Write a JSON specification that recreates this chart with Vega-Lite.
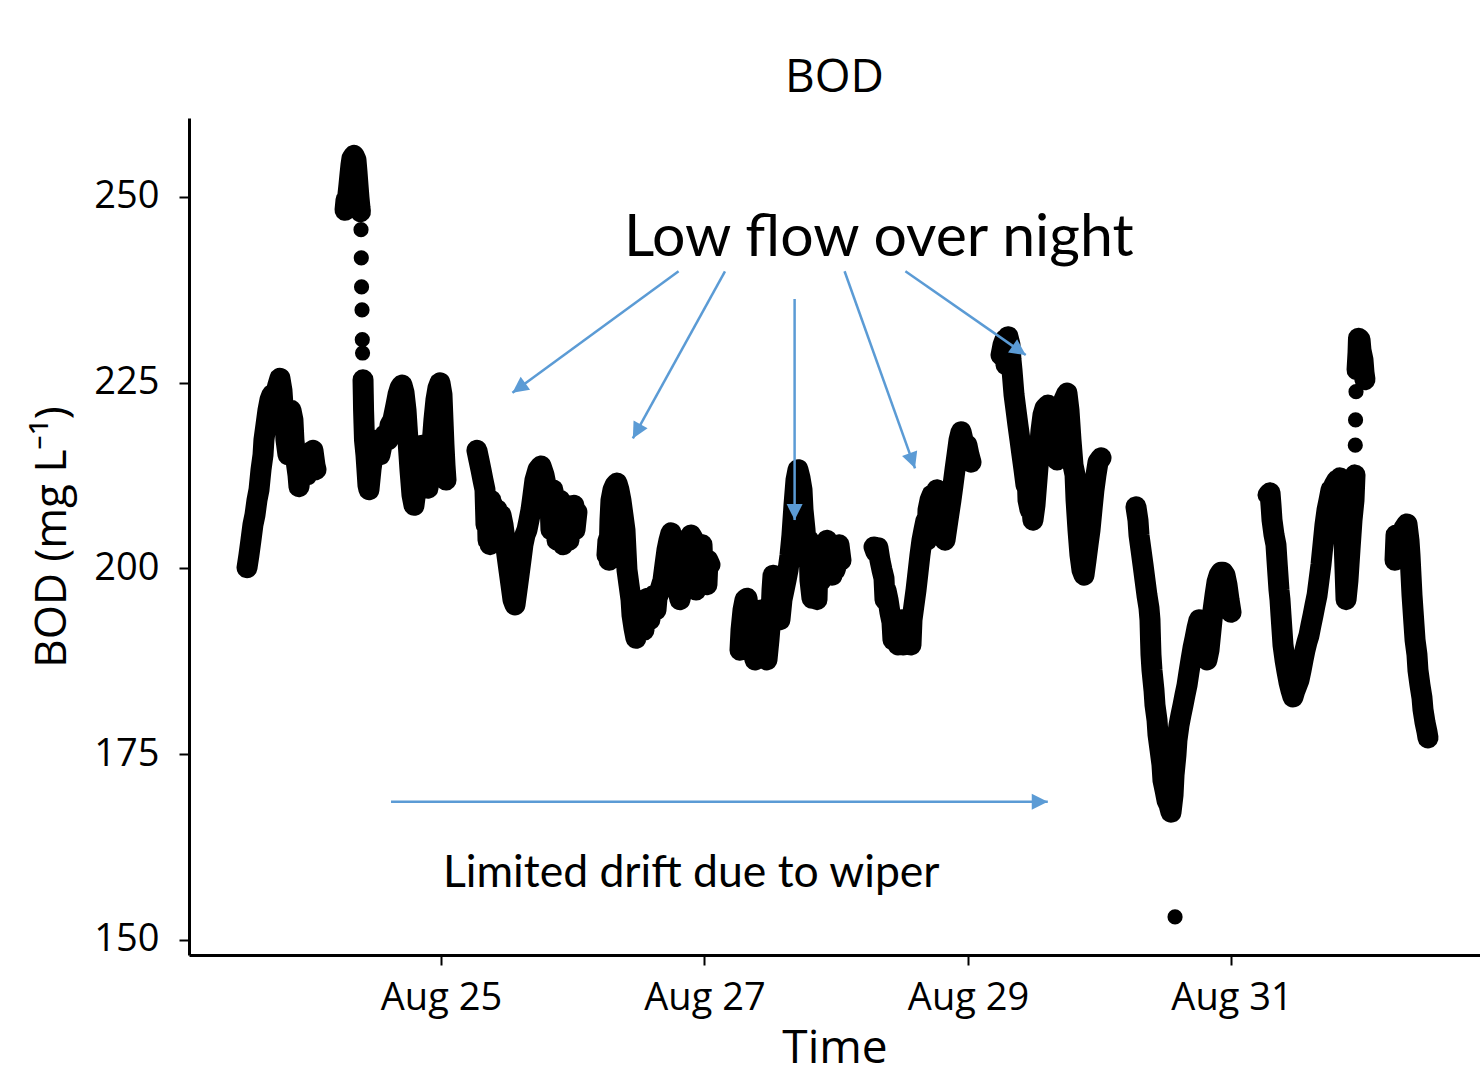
{
"$schema": "https://vega.github.io/schema/vega-lite/v6.json",
"width": 1291, "height": 837,
"autosize": {"type": "none"},
"padding": {"left": 189, "top": 118, "right": 0, "bottom": 122},
"background": "white",
"title": {"text": "BOD", "font": "Open Sans", "fontSize": 46, "fontWeight": "normal", "color": "#000", "frame": "group", "anchor": "middle", "offset": 16},
"config": {"view": {"stroke": null}, "axis": {"domainColor": "#000", "domainWidth": 3, "tickColor": "#000", "tickWidth": 2, "tickSize": 10, "grid": false, "labelColor": "#000", "labelFont": "Open Sans", "labelFontSize": 38, "titleFont": "Open Sans", "titleFontSize": 46, "titleFontWeight": "normal", "titleColor": "#000"}},
"datasets": {
"bod": [
{"t":"2019-08-23T12:40","v":200.1,"r":"A"},{"t":"2019-08-23T13:01","v":201.8,"r":"A"},{"t":"2019-08-23T13:23","v":203.8,"r":"A"},{"t":"2019-08-23T13:45","v":205.9,"r":"A"},{"t":"2019-08-23T14:07","v":207.2,"r":"A"},{"t":"2019-08-23T14:29","v":209.2,"r":"A"},{"t":"2019-08-23T14:51","v":210.6,"r":"A"},{"t":"2019-08-23T15:13","v":213.3,"r":"A"},{"t":"2019-08-23T15:35","v":215.3,"r":"A"},{"t":"2019-08-23T15:45","v":217.3,"r":"A"},{"t":"2019-08-23T16:07","v":219.3,"r":"A"},{"t":"2019-08-23T16:29","v":221.3,"r":"A"},{"t":"2019-08-23T16:51","v":222.7,"r":"A"},{"t":"2019-08-23T17:13","v":223.4,"r":"A"},{"t":"2019-08-23T17:35","v":222.7,"r":"A"},{"t":"2019-08-23T17:57","v":223.7,"r":"A"},{"t":"2019-08-23T18:18","v":224.7,"r":"A"},{"t":"2019-08-23T18:40","v":225.6,"r":"A"},{"t":"2019-08-23T19:02","v":224.0,"r":"A"},{"t":"2019-08-23T19:13","v":222.0,"r":"A"},{"t":"2019-08-23T19:35","v":220.0,"r":"A"},{"t":"2019-08-23T19:46","v":217.3,"r":"A"},{"t":"2019-08-23T20:08","v":215.3,"r":"A"},{"t":"2019-08-23T20:19","v":218.6,"r":"A"},{"t":"2019-08-23T20:41","v":221.3,"r":"A"},{"t":"2019-08-23T21:02","v":220.0,"r":"A"},{"t":"2019-08-23T21:13","v":217.3,"r":"A"},{"t":"2019-08-23T21:35","v":214.6,"r":"A"},{"t":"2019-08-23T21:57","v":212.6,"r":"A"},{"t":"2019-08-23T22:08","v":211.0,"r":"A"},{"t":"2019-08-23T22:30","v":213.3,"r":"A"},{"t":"2019-08-23T22:52","v":215.3,"r":"A"},{"t":"2019-08-23T23:14","v":214.6,"r":"A"},{"t":"2019-08-23T23:35","v":212.6,"r":"A"},{"t":"2019-08-23T23:57","v":213.9,"r":"A"},{"t":"2019-08-24T00:19","v":215.3,"r":"A"},{"t":"2019-08-24T00:41","v":215.9,"r":"A"},{"t":"2019-08-24T01:03","v":213.9,"r":"A"},{"t":"2019-08-24T01:14","v":213.3,"r":"A"},
{"t":"2019-08-24T06:31","v":248.2,"r":"B1"},{"t":"2019-08-24T06:42","v":249.6,"r":"B1"},{"t":"2019-08-24T06:53","v":248.9,"r":"B1"},{"t":"2019-08-24T07:03","v":250.3,"r":"B1"},{"t":"2019-08-24T07:14","v":251.6,"r":"B1"},{"t":"2019-08-24T07:25","v":253.0,"r":"B1"},{"t":"2019-08-24T07:36","v":254.3,"r":"B1"},{"t":"2019-08-24T07:47","v":255.2,"r":"B1"},{"t":"2019-08-24T08:09","v":255.6,"r":"B1"},{"t":"2019-08-24T08:31","v":255.0,"r":"B1"},{"t":"2019-08-24T08:42","v":253.4,"r":"B1"},{"t":"2019-08-24T08:53","v":251.6,"r":"B1"},{"t":"2019-08-24T09:04","v":249.9,"r":"B1"},{"t":"2019-08-24T09:15","v":248.5,"r":"B1"},{"t":"2019-08-24T09:20","v":248.0,"r":"B1"},
{"t":"2019-08-24T09:26","v":245.6},{"t":"2019-08-24T09:29","v":241.8},{"t":"2019-08-24T09:32","v":237.9},{"t":"2019-08-24T09:37","v":234.8},{"t":"2019-08-24T09:40","v":230.8},{"t":"2019-08-24T09:43","v":229.0},
{"t":"2019-08-24T09:48","v":225.4,"r":"B2"},{"t":"2019-08-24T09:51","v":223.4,"r":"B2"},{"t":"2019-08-24T09:54","v":221.3,"r":"B2"},{"t":"2019-08-24T09:59","v":219.3,"r":"B2"},{"t":"2019-08-24T10:04","v":217.3,"r":"B2"},{"t":"2019-08-24T10:20","v":215.3,"r":"B2"},{"t":"2019-08-24T10:31","v":213.3,"r":"B2"},{"t":"2019-08-24T10:42","v":211.2,"r":"B2"},{"t":"2019-08-24T10:53","v":210.6,"r":"B2"},{"t":"2019-08-24T11:15","v":213.3,"r":"B2"},{"t":"2019-08-24T11:37","v":215.3,"r":"B2"},{"t":"2019-08-24T11:59","v":215.9,"r":"B2"},{"t":"2019-08-24T12:31","v":217.3,"r":"B2"},{"t":"2019-08-24T12:53","v":215.3,"r":"B2"},{"t":"2019-08-24T13:15","v":216.6,"r":"B2"},{"t":"2019-08-24T13:48","v":218.0,"r":"B2"},{"t":"2019-08-24T14:21","v":217.3,"r":"B2"},{"t":"2019-08-24T14:43","v":219.3,"r":"B2"},{"t":"2019-08-24T15:15","v":220.0,"r":"B2"},{"t":"2019-08-24T15:48","v":222.0,"r":"B2"},{"t":"2019-08-24T16:10","v":223.4,"r":"B2"},{"t":"2019-08-24T16:32","v":224.3,"r":"B2"},{"t":"2019-08-24T16:54","v":224.7,"r":"B2"},{"t":"2019-08-24T17:16","v":223.7,"r":"B2"},{"t":"2019-08-24T17:38","v":221.3,"r":"B2"},{"t":"2019-08-24T17:59","v":217.3,"r":"B2"},{"t":"2019-08-24T18:21","v":213.3,"r":"B2"},{"t":"2019-08-24T18:43","v":209.9,"r":"B2"},{"t":"2019-08-24T19:05","v":208.5,"r":"B2"},{"t":"2019-08-24T19:27","v":210.6,"r":"B2"},{"t":"2019-08-24T19:49","v":213.3,"r":"B2"},{"t":"2019-08-24T20:10","v":215.3,"r":"B2"},{"t":"2019-08-24T20:32","v":216.6,"r":"B2"},{"t":"2019-08-24T20:54","v":214.6,"r":"B2"},{"t":"2019-08-24T21:16","v":212.2,"r":"B2"},{"t":"2019-08-24T21:38","v":210.8,"r":"B2"},{"t":"2019-08-24T22:00","v":213.3,"r":"B2"},{"t":"2019-08-24T22:22","v":216.6,"r":"B2"},{"t":"2019-08-24T22:43","v":220.0,"r":"B2"},{"t":"2019-08-24T23:05","v":222.7,"r":"B2"},{"t":"2019-08-24T23:27","v":224.3,"r":"B2"},{"t":"2019-08-24T23:49","v":225.0,"r":"B2"},{"t":"2019-08-25T00:11","v":223.4,"r":"B2"},{"t":"2019-08-25T00:22","v":220.0,"r":"B2"},{"t":"2019-08-25T00:33","v":216.6,"r":"B2"},{"t":"2019-08-25T00:44","v":213.9,"r":"B2"},{"t":"2019-08-25T00:55","v":211.9,"r":"B2"},
{"t":"2019-08-25T06:33","v":215.9,"r":"C"},{"t":"2019-08-25T06:55","v":214.6,"r":"C"},{"t":"2019-08-25T07:17","v":213.3,"r":"C"},{"t":"2019-08-25T07:39","v":211.9,"r":"C"},{"t":"2019-08-25T08:01","v":210.6,"r":"C"},{"t":"2019-08-25T08:12","v":205.9,"r":"C"},{"t":"2019-08-25T08:23","v":209.2,"r":"C"},{"t":"2019-08-25T08:34","v":203.8,"r":"C"},{"t":"2019-08-25T08:45","v":208.5,"r":"C"},{"t":"2019-08-25T08:56","v":203.2,"r":"C"},{"t":"2019-08-25T09:06","v":209.2,"r":"C"},{"t":"2019-08-25T09:17","v":205.2,"r":"C"},{"t":"2019-08-25T09:28","v":208.5,"r":"C"},{"t":"2019-08-25T09:50","v":206.5,"r":"C"},{"t":"2019-08-25T10:12","v":207.9,"r":"C"},{"t":"2019-08-25T10:34","v":206.5,"r":"C"},{"t":"2019-08-25T10:56","v":207.2,"r":"C"},{"t":"2019-08-25T11:18","v":205.9,"r":"C"},{"t":"2019-08-25T11:40","v":203.8,"r":"C"},{"t":"2019-08-25T12:01","v":201.8,"r":"C"},{"t":"2019-08-25T12:23","v":199.8,"r":"C"},{"t":"2019-08-25T12:45","v":197.8,"r":"C"},{"t":"2019-08-25T13:07","v":195.8,"r":"C"},{"t":"2019-08-25T13:29","v":195.1,"r":"C"},{"t":"2019-08-25T13:51","v":197.1,"r":"C"},{"t":"2019-08-25T14:13","v":199.1,"r":"C"},{"t":"2019-08-25T14:34","v":201.1,"r":"C"},{"t":"2019-08-25T14:56","v":203.2,"r":"C"},{"t":"2019-08-25T15:18","v":204.5,"r":"C"},{"t":"2019-08-25T15:40","v":205.2,"r":"C"},{"t":"2019-08-25T16:02","v":206.5,"r":"C"},{"t":"2019-08-25T16:24","v":207.9,"r":"C"},{"t":"2019-08-25T16:46","v":209.9,"r":"C"},{"t":"2019-08-25T17:07","v":211.9,"r":"C"},{"t":"2019-08-25T17:40","v":213.3,"r":"C"},{"t":"2019-08-25T18:13","v":213.8,"r":"C"},{"t":"2019-08-25T18:46","v":212.6,"r":"C"},{"t":"2019-08-25T19:19","v":210.6,"r":"C"},{"t":"2019-08-25T19:51","v":209.2,"r":"C"},{"t":"2019-08-25T20:02","v":205.2,"r":"C"},{"t":"2019-08-25T20:24","v":210.6,"r":"C"},{"t":"2019-08-25T20:35","v":206.5,"r":"C"},{"t":"2019-08-25T20:57","v":209.2,"r":"C"},{"t":"2019-08-25T21:08","v":203.8,"r":"C"},{"t":"2019-08-25T21:30","v":207.9,"r":"C"},{"t":"2019-08-25T21:41","v":209.2,"r":"C"},{"t":"2019-08-25T22:03","v":205.9,"r":"C"},{"t":"2019-08-25T22:14","v":203.2,"r":"C"},{"t":"2019-08-25T22:35","v":204.5,"r":"C"},{"t":"2019-08-25T22:46","v":208.5,"r":"C"},{"t":"2019-08-25T23:08","v":206.5,"r":"C"},{"t":"2019-08-25T23:19","v":203.8,"r":"C"},{"t":"2019-08-25T23:41","v":207.9,"r":"C"},{"t":"2019-08-25T23:52","v":207.2,"r":"C"},{"t":"2019-08-26T00:14","v":208.5,"r":"C"},{"t":"2019-08-26T00:25","v":205.2,"r":"C"},{"t":"2019-08-26T00:46","v":207.6,"r":"C"},
{"t":"2019-08-26T06:14","v":201.8,"r":"D"},{"t":"2019-08-26T06:25","v":203.8,"r":"D"},{"t":"2019-08-26T06:36","v":201.1,"r":"D"},{"t":"2019-08-26T06:47","v":206.5,"r":"D"},{"t":"2019-08-26T06:58","v":209.2,"r":"D"},{"t":"2019-08-26T07:20","v":210.6,"r":"D"},{"t":"2019-08-26T07:42","v":211.2,"r":"D"},{"t":"2019-08-26T08:04","v":211.5,"r":"D"},{"t":"2019-08-26T08:25","v":210.6,"r":"D"},{"t":"2019-08-26T08:47","v":209.2,"r":"D"},{"t":"2019-08-26T09:09","v":207.2,"r":"D"},{"t":"2019-08-26T09:31","v":205.2,"r":"D"},{"t":"2019-08-26T09:42","v":202.5,"r":"D"},{"t":"2019-08-26T09:53","v":199.8,"r":"D"},{"t":"2019-08-26T10:15","v":197.8,"r":"D"},{"t":"2019-08-26T10:37","v":195.8,"r":"D"},{"t":"2019-08-26T10:48","v":193.7,"r":"D"},{"t":"2019-08-26T11:09","v":192.0,"r":"D"},{"t":"2019-08-26T11:31","v":190.6,"r":"D"},{"t":"2019-08-26T11:53","v":192.0,"r":"D"},{"t":"2019-08-26T12:15","v":193.7,"r":"D"},{"t":"2019-08-26T12:37","v":195.1,"r":"D"},{"t":"2019-08-26T12:59","v":191.7,"r":"D"},{"t":"2019-08-26T13:10","v":195.8,"r":"D"},{"t":"2019-08-26T13:42","v":196.0,"r":"D"},{"t":"2019-08-26T14:04","v":193.1,"r":"D"},{"t":"2019-08-26T14:15","v":195.8,"r":"D"},{"t":"2019-08-26T14:48","v":196.4,"r":"D"},{"t":"2019-08-26T15:10","v":194.4,"r":"D"},{"t":"2019-08-26T15:21","v":196.0,"r":"D"},{"t":"2019-08-26T15:54","v":197.1,"r":"D"},{"t":"2019-08-26T16:26","v":198.4,"r":"D"},{"t":"2019-08-26T16:48","v":200.5,"r":"D"},{"t":"2019-08-26T17:10","v":202.5,"r":"D"},{"t":"2019-08-26T17:32","v":203.8,"r":"D"},{"t":"2019-08-26T17:54","v":204.8,"r":"D"},{"t":"2019-08-26T18:16","v":203.2,"r":"D"},{"t":"2019-08-26T18:38","v":200.5,"r":"D"},{"t":"2019-08-26T18:59","v":197.8,"r":"D"},{"t":"2019-08-26T19:32","v":195.8,"r":"D"},{"t":"2019-08-26T19:54","v":197.1,"r":"D"},{"t":"2019-08-26T20:16","v":199.8,"r":"D"},{"t":"2019-08-26T20:38","v":201.8,"r":"D"},{"t":"2019-08-26T21:00","v":203.2,"r":"D"},{"t":"2019-08-26T21:11","v":198.4,"r":"D"},{"t":"2019-08-26T21:32","v":204.5,"r":"D"},{"t":"2019-08-26T22:05","v":203.8,"r":"D"},{"t":"2019-08-26T22:27","v":197.1,"r":"D"},{"t":"2019-08-26T22:38","v":202.5,"r":"D"},{"t":"2019-08-26T23:11","v":201.1,"r":"D"},{"t":"2019-08-26T23:33","v":203.2,"r":"D"},{"t":"2019-08-26T23:44","v":199.8,"r":"D"},{"t":"2019-08-27T00:05","v":200.5,"r":"D"},{"t":"2019-08-27T00:27","v":197.8,"r":"D"},{"t":"2019-08-27T00:38","v":201.1,"r":"D"},{"t":"2019-08-27T01:00","v":200.5,"r":"D"},
{"t":"2019-08-27T06:28","v":189.0,"r":"E"},{"t":"2019-08-27T06:39","v":191.7,"r":"E"},{"t":"2019-08-27T07:01","v":194.4,"r":"E"},{"t":"2019-08-27T07:23","v":195.8,"r":"E"},{"t":"2019-08-27T07:45","v":196.0,"r":"E"},{"t":"2019-08-27T08:06","v":193.7,"r":"E"},{"t":"2019-08-27T08:28","v":191.0,"r":"E"},{"t":"2019-08-27T08:50","v":189.0,"r":"E"},{"t":"2019-08-27T09:12","v":187.7,"r":"E"},{"t":"2019-08-27T09:34","v":189.7,"r":"E"},{"t":"2019-08-27T09:56","v":192.4,"r":"E"},{"t":"2019-08-27T10:18","v":194.4,"r":"E"},{"t":"2019-08-27T10:39","v":192.4,"r":"E"},{"t":"2019-08-27T11:01","v":189.7,"r":"E"},{"t":"2019-08-27T11:23","v":187.7,"r":"E"},{"t":"2019-08-27T11:45","v":190.4,"r":"E"},{"t":"2019-08-27T12:07","v":193.7,"r":"E"},{"t":"2019-08-27T12:18","v":197.1,"r":"E"},{"t":"2019-08-27T12:29","v":199.1,"r":"E"},{"t":"2019-08-27T12:40","v":197.8,"r":"E"},{"t":"2019-08-27T13:02","v":195.8,"r":"E"},{"t":"2019-08-27T13:23","v":194.4,"r":"E"},{"t":"2019-08-27T13:45","v":193.1,"r":"E"},{"t":"2019-08-27T14:07","v":195.8,"r":"E"},{"t":"2019-08-27T14:29","v":197.1,"r":"E"},{"t":"2019-08-27T14:51","v":198.4,"r":"E"},{"t":"2019-08-27T15:13","v":199.8,"r":"E"},{"t":"2019-08-27T15:35","v":201.8,"r":"E"},{"t":"2019-08-27T15:56","v":204.5,"r":"E"},{"t":"2019-08-27T16:18","v":208.5,"r":"E"},{"t":"2019-08-27T16:40","v":211.9,"r":"E"},{"t":"2019-08-27T17:02","v":213.3,"r":"E"},{"t":"2019-08-27T17:24","v":212.2,"r":"E"},{"t":"2019-08-27T17:46","v":210.6,"r":"E"},{"t":"2019-08-27T17:57","v":207.9,"r":"E"},{"t":"2019-08-27T18:19","v":205.2,"r":"E"},{"t":"2019-08-27T18:30","v":203.2,"r":"E"},{"t":"2019-08-27T18:51","v":201.1,"r":"E"},{"t":"2019-08-27T19:02","v":203.8,"r":"E"},{"t":"2019-08-27T19:13","v":198.4,"r":"E"},{"t":"2019-08-27T19:35","v":196.0,"r":"E"},{"t":"2019-08-27T19:57","v":197.1,"r":"E"},{"t":"2019-08-27T20:19","v":199.8,"r":"E"},{"t":"2019-08-27T20:30","v":195.8,"r":"E"},{"t":"2019-08-27T20:41","v":201.1,"r":"E"},{"t":"2019-08-27T21:03","v":202.5,"r":"E"},{"t":"2019-08-27T21:14","v":198.4,"r":"E"},{"t":"2019-08-27T21:35","v":203.2,"r":"E"},{"t":"2019-08-27T22:08","v":201.8,"r":"E"},{"t":"2019-08-27T22:19","v":203.8,"r":"E"},{"t":"2019-08-27T22:41","v":200.5,"r":"E"},{"t":"2019-08-27T23:14","v":199.1,"r":"E"},{"t":"2019-08-27T23:25","v":201.8,"r":"E"},{"t":"2019-08-27T23:47","v":199.8,"r":"E"},{"t":"2019-08-28T00:19","v":201.1,"r":"E"},{"t":"2019-08-28T00:30","v":203.2,"r":"E"},{"t":"2019-08-28T00:52","v":201.1,"r":"E"},
{"t":"2019-08-28T06:53","v":202.9,"r":"F"},{"t":"2019-08-28T07:14","v":202.2,"r":"F"},{"t":"2019-08-28T07:36","v":202.8,"r":"F"},{"t":"2019-08-28T07:58","v":201.1,"r":"F"},{"t":"2019-08-28T08:20","v":199.8,"r":"F"},{"t":"2019-08-28T08:42","v":198.7,"r":"F"},{"t":"2019-08-28T08:53","v":195.8,"r":"F"},{"t":"2019-08-28T09:04","v":197.1,"r":"F"},{"t":"2019-08-28T09:26","v":195.8,"r":"F"},{"t":"2019-08-28T09:47","v":194.1,"r":"F"},{"t":"2019-08-28T10:09","v":192.8,"r":"F"},{"t":"2019-08-28T10:20","v":190.4,"r":"F"},{"t":"2019-08-28T10:31","v":191.7,"r":"F"},{"t":"2019-08-28T10:53","v":190.4,"r":"F"},{"t":"2019-08-28T11:15","v":189.7,"r":"F"},{"t":"2019-08-28T11:37","v":191.4,"r":"F"},{"t":"2019-08-28T11:59","v":193.1,"r":"F"},{"t":"2019-08-28T12:10","v":189.7,"r":"F"},{"t":"2019-08-28T12:21","v":192.4,"r":"F"},{"t":"2019-08-28T12:42","v":191.0,"r":"F"},{"t":"2019-08-28T13:04","v":190.4,"r":"F"},{"t":"2019-08-28T13:26","v":191.0,"r":"F"},{"t":"2019-08-28T13:37","v":189.7,"r":"F"},{"t":"2019-08-28T13:48","v":193.1,"r":"F"},{"t":"2019-08-28T14:10","v":195.1,"r":"F"},{"t":"2019-08-28T14:32","v":197.1,"r":"F"},{"t":"2019-08-28T14:54","v":199.5,"r":"F"},{"t":"2019-08-28T15:15","v":201.8,"r":"F"},{"t":"2019-08-28T15:37","v":203.8,"r":"F"},{"t":"2019-08-28T15:59","v":205.2,"r":"F"},{"t":"2019-08-28T16:21","v":206.5,"r":"F"},{"t":"2019-08-28T16:32","v":203.8,"r":"F"},{"t":"2019-08-28T16:43","v":207.9,"r":"F"},{"t":"2019-08-28T17:05","v":209.2,"r":"F"},{"t":"2019-08-28T17:27","v":209.9,"r":"F"},{"t":"2019-08-28T17:37","v":206.5,"r":"F"},{"t":"2019-08-28T17:48","v":209.2,"r":"F"},{"t":"2019-08-28T18:10","v":208.5,"r":"F"},{"t":"2019-08-28T18:21","v":210.6,"r":"F"},{"t":"2019-08-28T18:32","v":207.2,"r":"F"},{"t":"2019-08-28T18:54","v":205.9,"r":"F"},{"t":"2019-08-28T19:16","v":204.5,"r":"F"},{"t":"2019-08-28T19:38","v":209.2,"r":"F"},{"t":"2019-08-28T19:49","v":203.8,"r":"F"},{"t":"2019-08-28T20:21","v":206.5,"r":"F"},{"t":"2019-08-28T20:54","v":209.2,"r":"F"},{"t":"2019-08-28T21:16","v":211.2,"r":"F"},{"t":"2019-08-28T21:38","v":213.3,"r":"F"},{"t":"2019-08-28T22:00","v":215.3,"r":"F"},{"t":"2019-08-28T22:22","v":217.3,"r":"F"},{"t":"2019-08-28T22:44","v":218.4,"r":"F"},{"t":"2019-08-28T23:05","v":217.3,"r":"F"},{"t":"2019-08-28T23:27","v":215.9,"r":"F"},{"t":"2019-08-28T23:49","v":216.6,"r":"F"},{"t":"2019-08-29T00:11","v":215.3,"r":"F"},{"t":"2019-08-29T00:33","v":214.3,"r":"F"},
{"t":"2019-08-29T06:01","v":228.7,"r":"G"},{"t":"2019-08-29T06:23","v":230.1,"r":"G"},{"t":"2019-08-29T06:44","v":230.8,"r":"G"},{"t":"2019-08-29T06:55","v":227.4,"r":"G"},{"t":"2019-08-29T07:17","v":231.2,"r":"G"},{"t":"2019-08-29T07:39","v":230.1,"r":"G"},{"t":"2019-08-29T07:50","v":228.1,"r":"G"},{"t":"2019-08-29T08:01","v":226.7,"r":"G"},{"t":"2019-08-29T08:23","v":223.4,"r":"G"},{"t":"2019-08-29T08:45","v":221.3,"r":"G"},{"t":"2019-08-29T09:06","v":219.3,"r":"G"},{"t":"2019-08-29T09:28","v":217.3,"r":"G"},{"t":"2019-08-29T09:50","v":215.3,"r":"G"},{"t":"2019-08-29T10:12","v":213.3,"r":"G"},{"t":"2019-08-29T10:34","v":211.2,"r":"G"},{"t":"2019-08-29T10:45","v":213.3,"r":"G"},{"t":"2019-08-29T10:56","v":209.2,"r":"G"},{"t":"2019-08-29T11:18","v":207.9,"r":"G"},{"t":"2019-08-29T11:29","v":209.2,"r":"G"},{"t":"2019-08-29T11:50","v":206.5,"r":"G"},{"t":"2019-08-29T12:12","v":208.5,"r":"G"},{"t":"2019-08-29T12:34","v":211.9,"r":"G"},{"t":"2019-08-29T12:56","v":215.3,"r":"G"},{"t":"2019-08-29T13:18","v":218.6,"r":"G"},{"t":"2019-08-29T13:40","v":220.7,"r":"G"},{"t":"2019-08-29T14:02","v":221.6,"r":"G"},{"t":"2019-08-29T14:34","v":222.0,"r":"G"},{"t":"2019-08-29T14:56","v":220.0,"r":"G"},{"t":"2019-08-29T15:18","v":217.3,"r":"G"},{"t":"2019-08-29T15:40","v":219.3,"r":"G"},{"t":"2019-08-29T16:02","v":221.3,"r":"G"},{"t":"2019-08-29T16:13","v":214.6,"r":"G"},{"t":"2019-08-29T16:24","v":220.0,"r":"G"},{"t":"2019-08-29T16:46","v":218.6,"r":"G"},{"t":"2019-08-29T16:57","v":216.6,"r":"G"},{"t":"2019-08-29T17:07","v":220.7,"r":"G"},{"t":"2019-08-29T17:29","v":222.7,"r":"G"},{"t":"2019-08-29T18:02","v":223.6,"r":"G"},{"t":"2019-08-29T18:24","v":221.3,"r":"G"},{"t":"2019-08-29T18:46","v":217.3,"r":"G"},{"t":"2019-08-29T19:08","v":213.9,"r":"G"},{"t":"2019-08-29T19:30","v":212.6,"r":"G"},{"t":"2019-08-29T19:41","v":209.2,"r":"G"},{"t":"2019-08-29T20:02","v":205.2,"r":"G"},{"t":"2019-08-29T20:24","v":201.8,"r":"G"},{"t":"2019-08-29T20:46","v":199.8,"r":"G"},{"t":"2019-08-29T21:08","v":199.1,"r":"G"},{"t":"2019-08-29T21:30","v":201.1,"r":"G"},{"t":"2019-08-29T21:52","v":203.2,"r":"G"},{"t":"2019-08-29T22:14","v":205.2,"r":"G"},{"t":"2019-08-29T22:35","v":207.9,"r":"G"},{"t":"2019-08-29T22:57","v":210.6,"r":"G"},{"t":"2019-08-29T23:19","v":212.6,"r":"G"},{"t":"2019-08-29T23:41","v":214.3,"r":"G"},{"t":"2019-08-30T00:14","v":214.9,"r":"G"},
{"t":"2019-08-30T06:36","v":208.3,"r":"H"},{"t":"2019-08-30T06:58","v":206.5,"r":"H"},{"t":"2019-08-30T07:09","v":204.5,"r":"H"},{"t":"2019-08-30T07:31","v":202.5,"r":"H"},{"t":"2019-08-30T07:53","v":200.5,"r":"H"},{"t":"2019-08-30T08:15","v":198.4,"r":"H"},{"t":"2019-08-30T08:36","v":196.4,"r":"H"},{"t":"2019-08-30T08:58","v":194.7,"r":"H"},{"t":"2019-08-30T09:09","v":193.1,"r":"H"},{"t":"2019-08-30T09:15","v":190.4,"r":"H"},{"t":"2019-08-30T09:20","v":188.4,"r":"H"},{"t":"2019-08-30T09:31","v":186.3,"r":"H"},{"t":"2019-08-30T09:53","v":183.6,"r":"H"},{"t":"2019-08-30T10:04","v":181.6,"r":"H"},{"t":"2019-08-30T10:26","v":179.6,"r":"H"},{"t":"2019-08-30T10:37","v":177.6,"r":"H"},{"t":"2019-08-30T10:59","v":175.6,"r":"H"},{"t":"2019-08-30T11:20","v":173.6,"r":"H"},{"t":"2019-08-30T11:31","v":171.5,"r":"H"},{"t":"2019-08-30T11:53","v":170.2,"r":"H"},{"t":"2019-08-30T12:15","v":168.8,"r":"H"},{"t":"2019-08-30T12:37","v":168.2,"r":"H"},{"t":"2019-08-30T12:59","v":167.2,"r":"H"},{"t":"2019-08-30T13:21","v":169.5,"r":"H"},{"t":"2019-08-30T13:32","v":172.2,"r":"H"},{"t":"2019-08-30T13:43","v":153.1},{"t":"2019-08-30T13:53","v":174.9,"r":"H"},{"t":"2019-08-30T14:04","v":176.9,"r":"H"},{"t":"2019-08-30T14:26","v":178.9,"r":"H"},{"t":"2019-08-30T14:48","v":180.3,"r":"H"},{"t":"2019-08-30T15:10","v":181.6,"r":"H"},{"t":"2019-08-30T15:32","v":183.0,"r":"H"},{"t":"2019-08-30T15:54","v":184.3,"r":"H"},{"t":"2019-08-30T16:16","v":186.1,"r":"H"},{"t":"2019-08-30T16:37","v":187.7,"r":"H"},{"t":"2019-08-30T16:59","v":189.3,"r":"H"},{"t":"2019-08-30T17:21","v":190.6,"r":"H"},{"t":"2019-08-30T17:43","v":192.0,"r":"H"},{"t":"2019-08-30T18:05","v":193.1,"r":"H"},{"t":"2019-08-30T18:27","v":191.7,"r":"H"},{"t":"2019-08-30T18:49","v":189.7,"r":"H"},{"t":"2019-08-30T19:11","v":188.4,"r":"H"},{"t":"2019-08-30T19:32","v":187.7,"r":"H"},{"t":"2019-08-30T19:54","v":189.0,"r":"H"},{"t":"2019-08-30T20:16","v":191.7,"r":"H"},{"t":"2019-08-30T20:38","v":194.4,"r":"H"},{"t":"2019-08-30T21:00","v":196.4,"r":"H"},{"t":"2019-08-30T21:22","v":198.2,"r":"H"},{"t":"2019-08-30T21:44","v":199.1,"r":"H"},{"t":"2019-08-30T22:05","v":199.5,"r":"H"},{"t":"2019-08-30T22:27","v":199.5,"r":"H"},{"t":"2019-08-30T22:49","v":199.1,"r":"H"},{"t":"2019-08-30T23:11","v":197.8,"r":"H"},{"t":"2019-08-30T23:33","v":195.8,"r":"H"},{"t":"2019-08-30T23:55","v":194.1,"r":"H"},
{"t":"2019-08-31T06:39","v":209.9,"r":"I1"},{"t":"2019-08-31T07:01","v":210.2,"r":"I1"},{"t":"2019-08-31T07:12","v":208.5,"r":"I1"},{"t":"2019-08-31T07:23","v":206.5,"r":"I1"},{"t":"2019-08-31T07:45","v":204.5,"r":"I1"},{"t":"2019-08-31T08:06","v":203.2,"r":"I1"},{"t":"2019-08-31T08:17","v":201.1,"r":"I1"},{"t":"2019-08-31T08:28","v":199.1,"r":"I1"},{"t":"2019-08-31T08:39","v":197.1,"r":"I1"},{"t":"2019-08-31T08:50","v":195.8,"r":"I1"},{"t":"2019-08-31T09:01","v":193.7,"r":"I1"},{"t":"2019-08-31T09:12","v":191.7,"r":"I1"},{"t":"2019-08-31T09:23","v":189.7,"r":"I1"},{"t":"2019-08-31T09:45","v":187.7,"r":"I1"},{"t":"2019-08-31T10:07","v":186.1,"r":"I1"},{"t":"2019-08-31T10:28","v":184.7,"r":"I1"},{"t":"2019-08-31T10:50","v":183.6,"r":"I1"},{"t":"2019-08-31T11:12","v":182.7,"r":"I1"},{"t":"2019-08-31T11:34","v":183.6,"r":"I1"},{"t":"2019-08-31T11:56","v":184.3,"r":"I1"},{"t":"2019-08-31T12:18","v":185.0,"r":"I1"},{"t":"2019-08-31T12:40","v":186.3,"r":"I1"},{"t":"2019-08-31T13:02","v":187.7,"r":"I1"},{"t":"2019-08-31T13:23","v":189.0,"r":"I1"},{"t":"2019-08-31T13:45","v":190.1,"r":"I1"},{"t":"2019-08-31T14:07","v":191.0,"r":"I1"},{"t":"2019-08-31T14:29","v":192.4,"r":"I1"},{"t":"2019-08-31T14:51","v":193.7,"r":"I1"},{"t":"2019-08-31T15:13","v":195.1,"r":"I1"},{"t":"2019-08-31T15:35","v":196.4,"r":"I1"},{"t":"2019-08-31T15:56","v":198.4,"r":"I1"},{"t":"2019-08-31T16:18","v":200.5,"r":"I1"},{"t":"2019-08-31T16:40","v":203.2,"r":"I1"},{"t":"2019-08-31T17:02","v":205.9,"r":"I1"},{"t":"2019-08-31T17:24","v":207.9,"r":"I1"},{"t":"2019-08-31T17:46","v":209.2,"r":"I1"},{"t":"2019-08-31T18:08","v":210.6,"r":"I1"},{"t":"2019-08-31T18:29","v":208.5,"r":"I1"},{"t":"2019-08-31T18:40","v":211.2,"r":"I1"},{"t":"2019-08-31T19:13","v":211.9,"r":"I1"},{"t":"2019-08-31T19:24","v":209.2,"r":"I1"},{"t":"2019-08-31T19:46","v":212.2,"r":"I1"},{"t":"2019-08-31T20:08","v":210.6,"r":"I1"},{"t":"2019-08-31T20:19","v":207.9,"r":"I1"},{"t":"2019-08-31T20:30","v":203.8,"r":"I1"},{"t":"2019-08-31T20:41","v":199.8,"r":"I1"},{"t":"2019-08-31T20:52","v":195.8,"r":"I1"},{"t":"2019-08-31T21:13","v":198.4,"r":"I1"},{"t":"2019-08-31T21:35","v":202.5,"r":"I1"},{"t":"2019-08-31T21:57","v":206.5,"r":"I1"},{"t":"2019-08-31T22:19","v":209.2,"r":"I1"},{"t":"2019-08-31T22:30","v":212.6,"r":"I1"},
{"t":"2019-08-31T22:33","v":216.6},{"t":"2019-08-31T22:36","v":220.0},{"t":"2019-08-31T22:41","v":223.8},
{"t":"2019-08-31T22:52","v":226.7,"r":"I2"},{"t":"2019-08-31T23:03","v":229.1,"r":"I2"},{"t":"2019-08-31T23:08","v":231.0,"r":"I2"},{"t":"2019-08-31T23:25","v":230.8,"r":"I2"},{"t":"2019-08-31T23:35","v":229.4,"r":"I2"},{"t":"2019-08-31T23:57","v":228.1,"r":"I2"},{"t":"2019-09-01T00:08","v":226.4,"r":"I2"},{"t":"2019-09-01T00:19","v":225.4,"r":"I2"},
{"t":"2019-09-01T05:47","v":201.1,"r":"J"},{"t":"2019-09-01T05:58","v":204.5,"r":"J"},{"t":"2019-09-01T06:09","v":201.8,"r":"J"},{"t":"2019-09-01T06:31","v":203.2,"r":"J"},{"t":"2019-09-01T06:53","v":204.5,"r":"J"},{"t":"2019-09-01T07:25","v":205.4,"r":"J"},{"t":"2019-09-01T07:58","v":206.0,"r":"J"},{"t":"2019-09-01T08:20","v":203.8,"r":"J"},{"t":"2019-09-01T08:31","v":201.8,"r":"J"},{"t":"2019-09-01T08:42","v":199.1,"r":"J"},{"t":"2019-09-01T08:53","v":196.4,"r":"J"},{"t":"2019-09-01T09:04","v":194.4,"r":"J"},{"t":"2019-09-01T09:15","v":192.4,"r":"J"},{"t":"2019-09-01T09:26","v":190.4,"r":"J"},{"t":"2019-09-01T09:47","v":188.4,"r":"J"},{"t":"2019-09-01T09:58","v":186.3,"r":"J"},{"t":"2019-09-01T10:20","v":184.3,"r":"J"},{"t":"2019-09-01T10:42","v":182.6,"r":"J"},{"t":"2019-09-01T10:53","v":181.0,"r":"J"},{"t":"2019-09-01T11:15","v":179.3,"r":"J"},{"t":"2019-09-01T11:37","v":178.0,"r":"J"},{"t":"2019-09-01T11:48","v":177.2,"r":"J"}
],
"arrows": [
{"id":1,"t1":"2019-08-26T19:17","v1":240.0,"t2":"2019-08-25T13:01","v2":223.65},
{"id":2,"t1":"2019-08-27T03:44","v1":240.0,"t2":"2019-08-26T10:57","v2":217.5},
{"id":3,"t1":"2019-08-27T16:25","v1":236.27,"t2":"2019-08-27T16:25","v2":206.52},
{"id":4,"t1":"2019-08-28T01:31","v1":240.0,"t2":"2019-08-28T14:21","v2":213.48},
{"id":5,"t1":"2019-08-28T12:36","v1":240.0,"t2":"2019-08-29T10:31","v2":228.73},
{"id":6,"t1":"2019-08-24T14:54","v1":168.6,"t2":"2019-08-29T14:32","v2":168.6}
],
"notes": [
{"id":1,"t":"2019-08-26T09:20","v":242.05,"label":"Low flow over night"},
{"id":2,"t":"2019-08-25T00:22","v":157.12,"label":"Limited drift due to wiper"}
]
},
"layer": [
{"data": {"name": "bod"}, "transform": [{"filter": "isValid(datum.r)"}], "mark": {"type": "line", "color": "#000", "strokeWidth": 21, "strokeCap": "round", "strokeJoin": "round"},
 "encoding": {
  "x": {"field": "t", "type": "temporal", "title": "Time",
        "scale": {"domain": [{"year": 2019, "month": 8, "date": 23, "hours": 2, "minutes": 6}, {"year": 2019, "month": 9, "date": 1, "hours": 21, "minutes": 16}]},
        "axis": {"values": [{"year": 2019, "month": 8, "date": 25}, {"year": 2019, "month": 8, "date": 27}, {"year": 2019, "month": 8, "date": 29}, {"year": 2019, "month": 8, "date": 31}], "format": "%b %d", "labelPadding": 14, "titlePadding": 9}},
  "y": {"field": "v", "type": "quantitative", "title": "BOD (mg L⁻¹)",
        "scale": {"domain": [147.98, 260.63], "nice": false, "zero": false},
        "axis": {"values": [150, 175, 200, 225, 250], "labelPadding": 20, "titlePadding": 19, "titleFontSize": 44}},
  "detail": {"field": "r", "type": "nominal"}
 }},
{"data": {"name": "bod"}, "mark": {"type": "circle", "color": "#000", "size": 230, "opacity": 1},
 "encoding": {"x": {"field": "t", "type": "temporal", "title": "Time"}, "y": {"field": "v", "type": "quantitative", "title": "BOD (mg L⁻¹)"}}},
{"data": {"name": "arrows"}, "mark": {"type": "rule", "color": "#5B9BD5", "strokeWidth": 2.5},
 "encoding": {"x": {"field": "t1", "type": "temporal", "title": "Time"}, "y": {"field": "v1", "type": "quantitative", "title": "BOD (mg L⁻¹)"}, "x2": {"field": "t2"}, "y2": {"field": "v2"}}},
{"data": {"name": "arrows"}, "transform": [{"filter": "datum.id == 1"}], "mark": {"type": "point", "shape": "M0,0L-2,-1L-2,1Z", "filled": true, "color": "#5B9BD5", "opacity": 1, "size": 256, "angle": 143.9},
 "encoding": {"x": {"field": "t2", "type": "temporal", "title": "Time"}, "y": {"field": "v2", "type": "quantitative", "title": "BOD (mg L⁻¹)"}}},
{"data": {"name": "arrows"}, "transform": [{"filter": "datum.id == 2"}], "mark": {"type": "point", "shape": "M0,0L-2,-1L-2,1Z", "filled": true, "color": "#5B9BD5", "opacity": 1, "size": 256, "angle": 118.9},
 "encoding": {"x": {"field": "t2", "type": "temporal", "title": "Time"}, "y": {"field": "v2", "type": "quantitative", "title": "BOD (mg L⁻¹)"}}},
{"data": {"name": "arrows"}, "transform": [{"filter": "datum.id == 3"}], "mark": {"type": "point", "shape": "M0,0L-2,-1L-2,1Z", "filled": true, "color": "#5B9BD5", "opacity": 1, "size": 256, "angle": 90},
 "encoding": {"x": {"field": "t2", "type": "temporal", "title": "Time"}, "y": {"field": "v2", "type": "quantitative", "title": "BOD (mg L⁻¹)"}}},
{"data": {"name": "arrows"}, "transform": [{"filter": "datum.id == 4"}], "mark": {"type": "point", "shape": "M0,0L-2,-1L-2,1Z", "filled": true, "color": "#5B9BD5", "opacity": 1, "size": 256, "angle": 70.3},
 "encoding": {"x": {"field": "t2", "type": "temporal", "title": "Time"}, "y": {"field": "v2", "type": "quantitative", "title": "BOD (mg L⁻¹)"}}},
{"data": {"name": "arrows"}, "transform": [{"filter": "datum.id == 5"}], "mark": {"type": "point", "shape": "M0,0L-2,-1L-2,1Z", "filled": true, "color": "#5B9BD5", "opacity": 1, "size": 256, "angle": 34.7},
 "encoding": {"x": {"field": "t2", "type": "temporal", "title": "Time"}, "y": {"field": "v2", "type": "quantitative", "title": "BOD (mg L⁻¹)"}}},
{"data": {"name": "arrows"}, "transform": [{"filter": "datum.id == 6"}], "mark": {"type": "point", "shape": "M0,0L-2,-1L-2,1Z", "filled": true, "color": "#5B9BD5", "opacity": 1, "size": 256, "angle": 0},
 "encoding": {"x": {"field": "t2", "type": "temporal", "title": "Time"}, "y": {"field": "v2", "type": "quantitative", "title": "BOD (mg L⁻¹)"}}},
{"data": {"name": "notes"}, "transform": [{"filter": "datum.id == 1"}], "mark": {"type": "text", "font": "Lato", "fontSize": 59, "color": "#000", "align": "left", "baseline": "alphabetic"},
 "encoding": {"x": {"field": "t", "type": "temporal", "title": "Time"}, "y": {"field": "v", "type": "quantitative", "title": "BOD (mg L⁻¹)"}, "text": {"field": "label"}}},
{"data": {"name": "notes"}, "transform": [{"filter": "datum.id == 2"}], "mark": {"type": "text", "font": "Lato", "fontSize": 44.5, "color": "#000", "align": "left", "baseline": "alphabetic"},
 "encoding": {"x": {"field": "t", "type": "temporal", "title": "Time"}, "y": {"field": "v", "type": "quantitative", "title": "BOD (mg L⁻¹)"}, "text": {"field": "label"}}}
]
}
